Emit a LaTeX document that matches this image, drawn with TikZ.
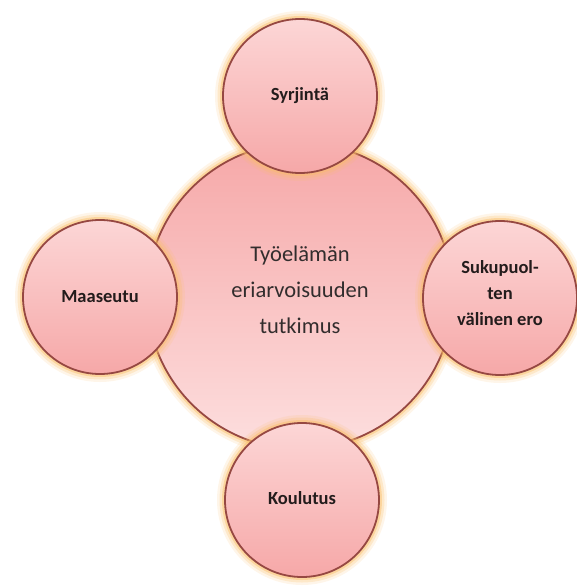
\documentclass[tikz,border=0pt]{standalone}
\usepackage{fontspec}
\setmainfont{Carlito}
\definecolor{rim}{RGB}{150,72,66}
\definecolor{glowc}{RGB}{250,190,105}
\definecolor{pinklight}{RGB}{252,214,214}
\definecolor{pinkdeep}{RGB}{246,168,168}
\definecolor{inktext}{RGB}{35,28,28}
\definecolor{centertext}{RGB}{50,45,45}
\tikzset{
  glowing/.style={
    preaction={draw=glowc, line width=16pt, draw opacity=.15},
    preaction={draw=glowc, line width=11pt, draw opacity=.25},
    preaction={draw=glowc, line width=6pt, draw opacity=.45}},
  hub/.style={circle, glowing, draw=rim, line width=1.8pt,
    minimum size=306pt, inner sep=0pt,
    top color=pinkdeep, bottom color=pinklight!80!white},
  topic/.style={circle, glowing, draw=rim, line width=1.8pt,
    minimum size=154pt, inner sep=0pt,
    top color=pinklight, bottom color=pinkdeep},
  hubtext/.style={align=center, text=centertext, inner sep=0pt,
    font=\fontsize{22.5}{36}\selectfont},
  topictext/.style={align=center, text=inktext, inner sep=0pt,
    font=\bfseries\fontsize{18.5}{26}\selectfont}
}
\begin{document}
\begin{tikzpicture}[x=1pt,y=-1pt]
  \useasboundingbox (0,0) rectangle (577,588);
  % central theme
  \node[hub] (hub) at (300,296) {};
  \node[hubtext] (hublabel) at ([yshift=6pt]hub.center)
    {Työelämän\\eriarvoisuuden\\tutkimus};
  % surrounding topics
  \node[topic] (top) at (300,96) {};
  \node[topic] (left) at (100,297) {};
  \node[topic] (right) at (500,298) {};
  \node[topic] (bottom) at (302,500) {};
  \node[topictext] (toplabel) at (top.center) {Syrjintä};
  \node[topictext] (leftlabel) at (left.center) {Maaseutu};
  \node[topictext] (rightlabel) at ([yshift=5pt]right.center)
    {Sukupuol-\\ten\\välinen ero};
  \node[topictext] (bottomlabel) at ([yshift=2pt]bottom.center) {Koulutus};
\end{tikzpicture}
\end{document}
